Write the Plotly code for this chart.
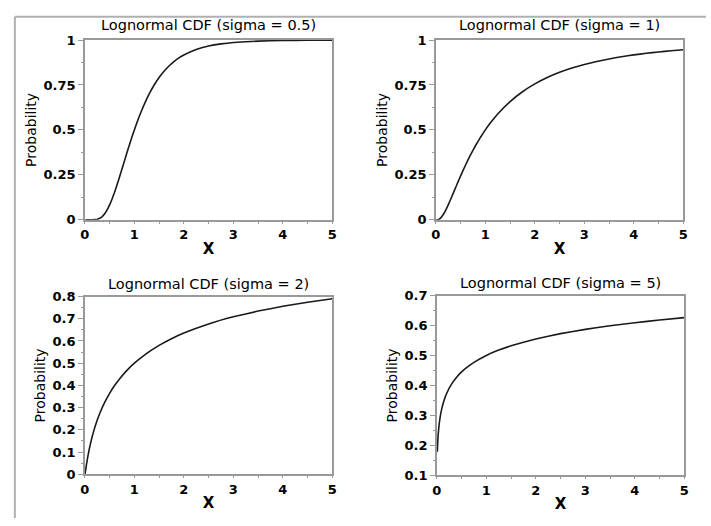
import plotly.graph_objects as go

# ---- data ----
x_s05 = [0.01, 0.1, 0.15, 0.2, 0.25, 0.3, 0.35, 0.4, 0.45, 0.5, 0.55, 0.6, 0.65, 0.7, 0.75, 0.8, 0.85, 0.9, 0.95, 1.0,
         1.1, 1.2, 1.3, 1.4, 1.5, 1.6, 1.7, 1.8, 1.9, 2.0, 2.25, 2.5, 2.75, 3.0, 3.5, 4.0, 4.5, 5.0]
y_s05 = [0.0, 0.0, 0.0001, 0.0006, 0.0028, 0.008, 0.0179, 0.0334, 0.0551, 0.0829, 0.1159, 0.1534, 0.1945, 0.2379, 0.2825,
         0.3277, 0.3726, 0.4165, 0.4591, 0.5, 0.5756, 0.6423, 0.7001, 0.7496, 0.7913, 0.8264, 0.8557, 0.8801, 0.9004,
         0.9171, 0.9476, 0.9666, 0.9785, 0.986, 0.9939, 0.9972, 0.9987, 0.9994]

x_s1 = [0.01, 0.05, 0.1, 0.15, 0.2, 0.25, 0.3, 0.35, 0.4, 0.45, 0.5, 0.6, 0.7, 0.8, 0.9, 1.0, 1.1, 1.25, 1.5, 1.75, 2.0,
        2.25, 2.5, 2.75, 3.0, 3.25, 3.5, 3.75, 4.0, 4.25, 4.5, 4.75, 5.0]
y_s1 = [0.0, 0.0014, 0.0106, 0.0289, 0.0538, 0.0828, 0.1143, 0.1469, 0.1798, 0.2123, 0.2441, 0.3047, 0.3606, 0.4117,
        0.458, 0.5, 0.538, 0.5883, 0.6574, 0.7122, 0.7559, 0.7913, 0.8202, 0.8441, 0.864, 0.8807, 0.8949, 0.9069,
        0.9172, 0.926, 0.9337, 0.9404, 0.9462]

x_s2 = [0.001, 0.005, 0.01, 0.02, 0.03, 0.05, 0.07, 0.1, 0.15, 0.2, 0.25, 0.3, 0.4, 0.5, 0.6, 0.7, 0.85, 1.0, 1.25, 1.5,
        1.75, 2.0, 2.5, 3.0, 3.5, 4.0, 4.5, 5.0]
y_s2 = [0.0003, 0.004, 0.0106, 0.0252, 0.0398, 0.0671, 0.0918, 0.1248, 0.1714, 0.2105, 0.2441, 0.2736, 0.3235, 0.3644,
        0.3992, 0.4292, 0.4676, 0.5, 0.5444, 0.5803, 0.6102, 0.6356, 0.6765, 0.7086, 0.7344, 0.7559, 0.774, 0.7895]

x_s5 = [0.01, 0.02, 0.03, 0.05, 0.07, 0.1, 0.15, 0.2, 0.3, 0.4, 0.5, 0.6, 0.75, 1.0, 1.25, 1.5, 2.0, 2.5, 3.0, 3.5, 4.0,
        4.5, 5.0]
y_s5 = [0.1785, 0.217, 0.2416, 0.2745, 0.2974, 0.3225, 0.3522, 0.3738, 0.4049, 0.4273, 0.4449, 0.4593, 0.4771, 0.5,
        0.5178, 0.5323, 0.5551, 0.5727, 0.587, 0.5989, 0.6092, 0.6182, 0.6262]

titles = ["Lognormal CDF (sigma = 0.5)", "Lognormal CDF (sigma = 1)",
          "Lognormal CDF (sigma = 2)", "Lognormal CDF (sigma = 5)"]
y_ranges = [[0, 1], [0, 1], [0, 0.8], [0.1, 0.7]]
y_dticks = [0.25, 0.25, 0.1, 0.1]

W, H = 711, 526
# panel pixel boxes: left, right, top, bottom
boxes = [(81, 332, 34, 219), (437, 688, 34, 219), (81, 332, 298, 481), (438, 689, 297, 482)]
title_gap = [5, 5, 3, 3]

series = [(x_s05, y_s05), (x_s1, y_s1), (x_s2, y_s2), (x_s5, y_s5)]

fig = go.Figure()
FONT = "DejaVu Sans, sans-serif"
AX = "#999999"

for i, ((xs, ys), (l, r, t, b)) in enumerate(zip(series, boxes)):
    n = "" if i == 0 else str(i + 1)
    fig.add_trace(go.Scatter(x=xs, y=ys, mode="lines", line=dict(color="#1a1a1a", width=1.6, shape="spline", smoothing=0.3),
                             xaxis="x" + n, yaxis="y" + n, showlegend=False, hoverinfo="skip"))
    common = dict(showgrid=False, zeroline=False, showline=True, linecolor=AX, linewidth=1.5, mirror=True,
                  tickcolor=AX, tickwidth=1,
                  tickfont=dict(family=FONT, size=13, color="black", weight="bold"))
    fig.update_layout(**{
        "xaxis" + n: dict(domain=[l / W, r / W], anchor="y" + n, range=[0, 5], dtick=1, tick0=0,
                          ticks="outside", ticklen=2,
                          minor=dict(dtick=0.5, ticks="outside", ticklen=2, tickcolor=AX),
                          title=dict(text="X", font=dict(family=FONT, size=15, color="black", weight="bold"), standoff=2),
                          **common),
        "yaxis" + n: dict(domain=[1 - b / H, 1 - t / H], anchor="x" + n, range=y_ranges[i], dtick=y_dticks[i],
                          tick0=0, ticks="outside", ticklen=5,
                          minor=dict(dtick=y_dticks[i] / 2, ticks="outside", ticklen=2, tickcolor=AX),
                          title=dict(text="Probability", font=dict(family=FONT, size=14, color="black"), standoff=4),
                          **common),
    })
    fig.add_annotation(text=titles[i], xref="paper", yref="paper", x=(l + r) / 2 / W, y=1 - (t - title_gap[i]) / H,
                       xanchor="center", yanchor="bottom", showarrow=False,
                       font=dict(family="DejaVu Sans, sans-serif", size=14.5, color="black"))

# outer border lines (top and left)
fig.add_shape(type="line", xref="paper", yref="paper", x0=10 / W, x1=1, y0=1 - 10 / H, y1=1 - 10 / H,
              line=dict(color="#b0b0b0", width=2))
fig.add_shape(type="line", xref="paper", yref="paper", x0=10 / W, x1=10 / W, y0=0, y1=1 - 10 / H,
              line=dict(color="#b0b0b0", width=2))

fig.update_layout(width=W, height=H, margin=dict(l=0, r=0, t=0, b=0),
                  paper_bgcolor="white", plot_bgcolor="white")
fig.write_html("out.html")
